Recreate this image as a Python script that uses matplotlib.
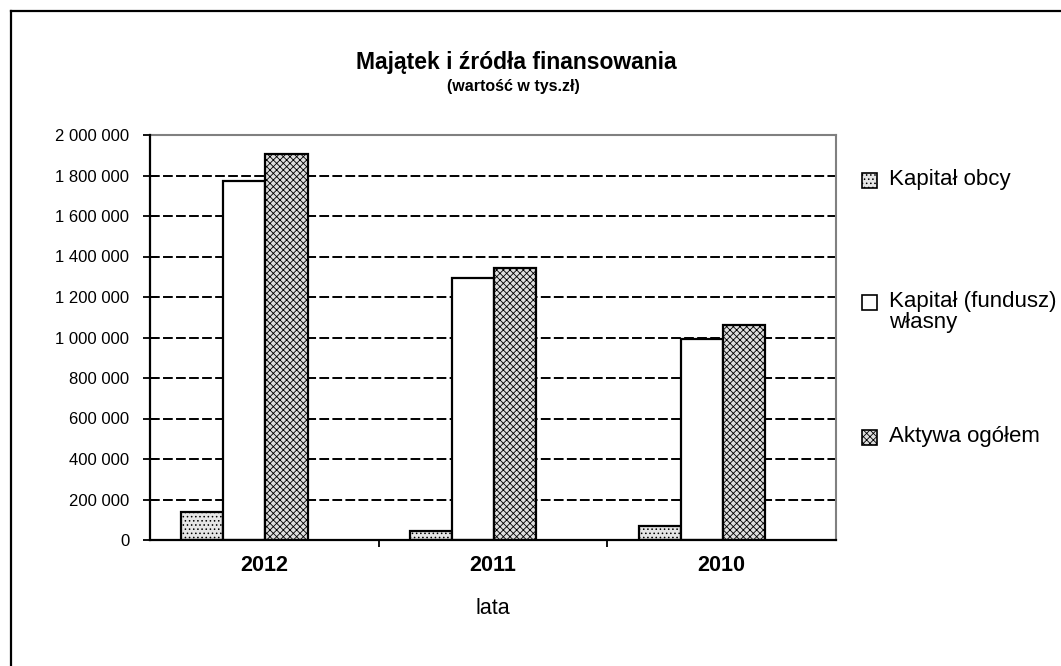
import matplotlib.pyplot as plt
import matplotlib.ticker as mticker
from matplotlib.patches import Rectangle
from matplotlib.lines import Line2D
import numpy as np

plt.rcParams['font.family'] = ['Liberation Sans', 'DejaVu Sans']
plt.rcParams['hatch.linewidth'] = 0.6

# data (tys. zł)
years = ['2012', '2011', '2010']
series = ['Kapitał obcy', 'Kapitał (fundusz)\nwłasny', 'Aktywa ogółem']
kapital_obcy = [137000, 45000, 70000]
kapital_wlasny = [1773000, 1293000, 992000]
aktywa_ogolem = [1905000, 1342000, 1061000]
values = [kapital_obcy, kapital_wlasny, aktywa_ogolem]

styles = [
    dict(facecolor='#e6e6e6', hatch='....', edgecolor='black'),
    dict(facecolor='white', hatch=None, edgecolor='black'),
    dict(facecolor='#dedede', hatch='xxxxx', edgecolor='black'),
]

W, H = 1061, 666
fig = plt.figure(figsize=(W / 100, H / 100), dpi=100)
ax = fig.add_axes([150 / W, 1 - 540 / H, (836 - 150) / W, (540 - 135) / H])

x = np.arange(len(years))
bw = 0.184
offset = -0.087
for i, vals in enumerate(values):
    ax.bar(x + offset + (i - 1) * bw, vals, width=bw, linewidth=1.6,
           zorder=3, **styles[i])

ax.set_xlim(-0.5, 2.5)
ax.set_ylim(0, 2000000)
ax.yaxis.set_major_locator(mticker.MultipleLocator(200000))
ax.yaxis.set_major_formatter(mticker.FuncFormatter(
    lambda v, p: f'{int(v):,}'.replace(',', ' ')))
ax.tick_params(axis='y', direction='inout', length=10, width=1.3,
               labelsize=12, pad=10)

# category boundaries as major ticks, names as minor ticks
ax.set_xticks([0.5, 1.5])
ax.set_xticklabels([])
ax.set_xticks(x, minor=True)
ax.set_xticklabels(years, minor=True, fontsize=15.5, fontweight='bold')
ax.tick_params(axis='x', which='major', direction='out', length=5, width=1.3)
ax.tick_params(axis='x', which='minor', length=0, pad=11)
ax.set_xlabel('lata', fontsize=15.5, labelpad=16)

ax.yaxis.grid(True, color='black', linewidth=1.4, linestyle=(0, (5, 1.7)))
ax.set_axisbelow(True)

for s in ['left', 'bottom']:
    ax.spines[s].set_linewidth(1.6)
    ax.spines[s].set_zorder(4)
for s in ['top', 'right']:
    ax.spines[s].set_color('#808080')
    ax.spines[s].set_linewidth(1.5)

# titles
fig.text(516 / W, 1 - 62 / H, 'Majątek i źródła finansowania', ha='center',
         va='center', fontsize=16.5, fontweight='bold')
fig.text(513 / W, 1 - 86 / H, '(wartość w tys.zł)', ha='center',
         va='center', fontsize=11.5, fontweight='bold')

# legend drawn by hand to keep Excel-like spacing
leg_y = [180, 302, 437]
for i, name in enumerate(series):
    yc = leg_y[i]
    fig.patches.append(Rectangle((862 / W, 1 - (yc + 7.5) / H), 15 / W, 15 / H,
                                 transform=fig.transFigure, linewidth=1.2,
                                 **styles[i]))
    fig.text(889 / W, 1 - (yc - 11) / H, name, ha='left', va='top',
             fontsize=16, linespacing=1.0)

# outer chart frame (only top/left visible in the scan)
fig.add_artist(Line2D([11 / W, 11 / W], [0, 1 - 11 / H], color='black',
                      linewidth=1.6, transform=fig.transFigure))
fig.add_artist(Line2D([11 / W, 1], [1 - 11 / H, 1 - 11 / H], color='black',
                      linewidth=1.6, transform=fig.transFigure))

plt.savefig('out.png', dpi=100)
